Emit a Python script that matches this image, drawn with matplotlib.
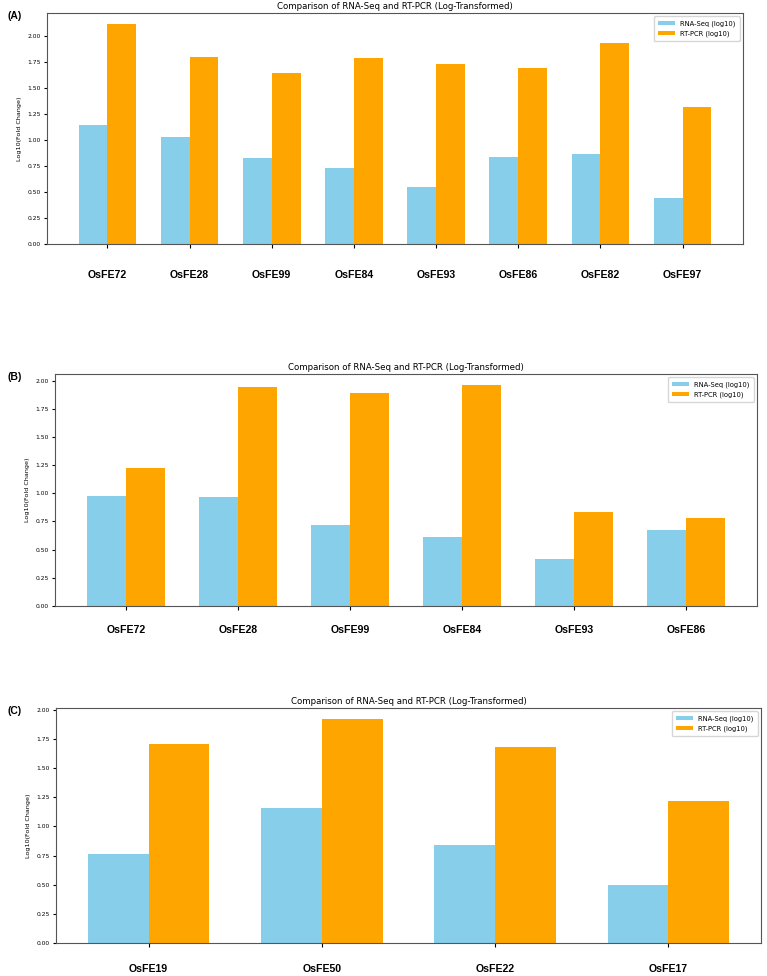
import numpy as np
import matplotlib.pyplot as plt

# Panel A
genes_a = ['OsFE72', 'OsFE28', 'OsFE99', 'OsFE84', 'OsFE93', 'OsFE86', 'OsFE82', 'OsFE97']
rnaseq_a = [1.15, 1.035, 0.83, 0.735, 0.55, 0.84, 0.87, 0.44]
rtpcr_a = [2.12, 1.80, 1.65, 1.79, 1.73, 1.70, 1.94, 1.32]

# Panel B
genes_b = ['OsFE72', 'OsFE28', 'OsFE99', 'OsFE84', 'OsFE93', 'OsFE86']
rnaseq_b = [0.975, 0.97, 0.72, 0.61, 0.42, 0.67]
rtpcr_b = [1.22, 1.94, 1.89, 1.96, 0.835, 0.78]

# Panel C
genes_c = ['OsFE19', 'OsFE50', 'OsFE22', 'OsFE17']
rnaseq_c = [0.765, 1.155, 0.845, 0.495]
rtpcr_c = [1.71, 1.92, 1.68, 1.215]

W, H = 767, 976
fig = plt.figure(figsize=(W / 100, H / 100), dpi=100)

# (letra, genes, rnaseq, rtpcr, caja en pixeles [izq, arriba, der, abajo], pad etiquetas)
paneles = [
    ('(A)', genes_a, rnaseq_a, rtpcr_a, [47, 13, 743, 244], 16),
    ('(B)', genes_b, rnaseq_b, rtpcr_b, [55, 374, 757, 606], 11),
    ('(C)', genes_c, rnaseq_c, rtpcr_c, [56, 708, 761, 943], 12),
]

ancho = 0.35
for letra, genes, rna, rt, caja, pad in paneles:
    l, t, r, b = caja
    ax = fig.add_axes([l / W, 1 - b / H, (r - l) / W, (b - t) / H])
    x = np.arange(len(genes))
    ax.bar(x - ancho / 2, rna, ancho, color='skyblue', label='RNA-Seq (log10)')
    ax.bar(x + ancho / 2, rt, ancho, color='orange', label='RT-PCR (log10)')
    ax.set_xticks(x)
    ax.set_xticklabels(genes, fontsize=7.6, fontweight='bold', family='Liberation Sans')
    ax.tick_params(axis='x', pad=pad, length=3)
    ax.tick_params(axis='y', labelsize=4.3, length=2.5, pad=2)
    ax.set_ylabel('Log10(Fold Change)', fontsize=4.6, labelpad=4)
    ax.set_title('Comparison of RNA-Seq and RT-PCR (Log-Transformed)', fontsize=6.2, pad=3)
    ax.legend(fontsize=4.9, loc='upper right', handlelength=2.5, borderpad=0.6)
    for s in ax.spines.values():
        s.set_color('#555555')
        s.set_linewidth(0.8)
    fig.text(8 / W, 1 - (t + 3) / H, letra, fontsize=7.5, fontweight='bold',
             family='Liberation Sans', va='center', ha='left')

fig.savefig('out.png', dpi=100)
